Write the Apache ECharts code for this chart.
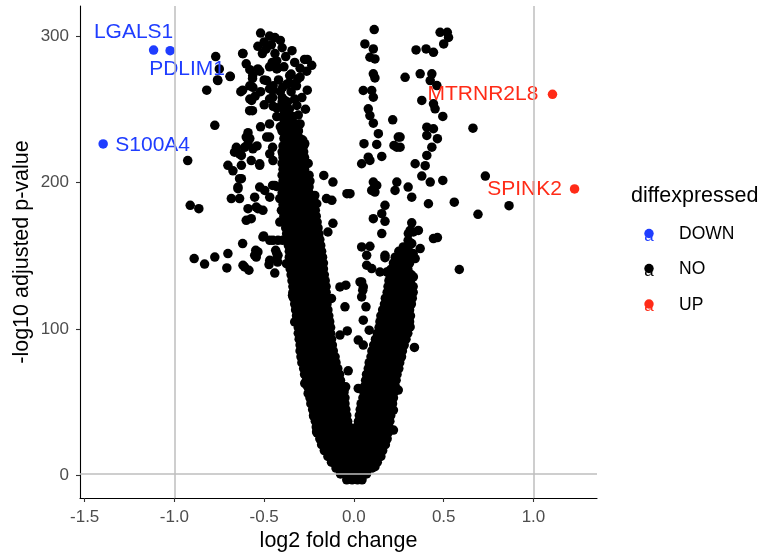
<!DOCTYPE html>
<html>
<head>
<meta charset="utf-8">
<script src="https://cdn.jsdelivr.net/npm/echarts@6/dist/echarts.min.js"></script>
<style>
html,body{margin:0;padding:0;background:#fff;}
#chart{width:766px;height:554px;}
</style>
</head>
<body>
<div id="chart"></div>
<script>
// ---------------- data ----------------
// dense V of non-significant genes: rows of [ -log10 padj, [log2FC values...] ]
const noBandRows = [
[-3,[-0.04,-0.01,0.02,0.045]],
[1,[-0.075,-0.045,-0.015,0.015,0.045,0.07]],
[5,[-0.10,-0.07,-0.04,-0.01,0.02,0.05,0.08,0.10]],
[9,[-0.125,-0.095,-0.065,-0.035,-0.005,0.025,0.055,0.085,0.115,0.13]],
[13,[-0.145,-0.115,-0.085,-0.055,-0.025,0.005,0.035,0.065,0.095,0.125,0.15]],
[17,[-0.165,-0.135,-0.105,-0.075,-0.045,-0.015,0.015,0.045,0.075,0.105,0.135,0.16]],
[21,[-0.18,-0.15,-0.12,-0.09,-0.06,-0.03,0.0,0.03,0.06,0.09,0.12,0.15,0.175]],
[25,[-0.19,-0.16,-0.13,-0.10,-0.07,-0.04,-0.01,0.02,0.05,0.08,0.11,0.14,0.17,0.185]],
[29,[-0.205,-0.175,-0.145,-0.115,-0.085,-0.055,-0.025,0.005,0.035,0.065,0.095,0.125,0.155,0.19]],
[33,[-0.21,-0.18,-0.15,-0.12,-0.09,-0.06,-0.025,0.015,0.045,0.075,0.105,0.135,0.165,0.195]],
[37,[-0.215,-0.185,-0.155,-0.125,-0.095,-0.065,-0.035,0.025,0.055,0.085,0.115,0.145,0.175,0.20]],
[41,[-0.225,-0.195,-0.165,-0.135,-0.105,-0.075,-0.04,0.03,0.06,0.09,0.12,0.15,0.18,0.205]],
[45,[-0.23,-0.20,-0.17,-0.14,-0.11,-0.075,-0.045,0.035,0.065,0.095,0.125,0.155,0.185,0.21]],
[49,[-0.24,-0.21,-0.18,-0.15,-0.12,-0.085,-0.05,0.04,0.07,0.10,0.13,0.16,0.19,0.215]],
[53,[-0.245,-0.215,-0.185,-0.155,-0.125,-0.09,-0.05,0.05,0.08,0.11,0.14,0.17,0.20,0.22]],
[57,[-0.25,-0.22,-0.19,-0.16,-0.13,-0.095,-0.055,0.055,0.085,0.115,0.145,0.175,0.205,0.225]],
[61,[-0.26,-0.23,-0.20,-0.17,-0.14,-0.105,-0.065,0.06,0.09,0.12,0.15,0.18,0.21,0.23]],
[65,[-0.265,-0.235,-0.205,-0.175,-0.145,-0.11,-0.075,0.065,0.095,0.125,0.155,0.185,0.215,0.235]],
[69,[-0.275,-0.245,-0.215,-0.185,-0.155,-0.12,-0.08,0.07,0.10,0.13,0.16,0.19,0.22,0.24]],
[73,[-0.28,-0.25,-0.22,-0.19,-0.16,-0.125,-0.09,0.08,0.11,0.14,0.17,0.20,0.23,0.25]],
[77,[-0.29,-0.26,-0.23,-0.20,-0.17,-0.135,-0.10,0.085,0.115,0.145,0.175,0.205,0.235,0.255]],
[81,[-0.295,-0.265,-0.235,-0.205,-0.175,-0.14,-0.105,0.095,0.125,0.155,0.185,0.215,0.245,0.265]],
[85,[-0.30,-0.27,-0.24,-0.21,-0.18,-0.145,-0.115,0.10,0.13,0.16,0.19,0.22,0.25,0.27]],
[89,[-0.30,-0.27,-0.24,-0.21,-0.18,-0.15,-0.12,0.11,0.14,0.17,0.20,0.23,0.26,0.28]],
[93,[-0.305,-0.275,-0.245,-0.215,-0.185,-0.155,-0.125,0.12,0.15,0.18,0.21,0.24,0.27,0.29]],
[97,[-0.31,-0.28,-0.25,-0.22,-0.19,-0.16,-0.13,0.13,0.16,0.19,0.22,0.25,0.28,0.30]],
[101,[-0.31,-0.28,-0.25,-0.22,-0.19,-0.16,-0.13,0.14,0.17,0.20,0.23,0.26,0.29,0.305]],
[105,[-0.315,-0.285,-0.255,-0.225,-0.195,-0.165,-0.135,0.145,0.175,0.205,0.235,0.265,0.295,0.31]],
[109,[-0.32,-0.29,-0.26,-0.23,-0.20,-0.17,-0.14,0.15,0.18,0.21,0.24,0.27,0.30,0.315]],
[113,[-0.325,-0.295,-0.265,-0.235,-0.205,-0.175,-0.145,0.16,0.19,0.22,0.25,0.28,0.31]],
[117,[-0.33,-0.30,-0.27,-0.24,-0.21,-0.18,-0.15,0.17,0.20,0.23,0.26,0.29,0.32]],
[121,[-0.335,-0.305,-0.275,-0.245,-0.215,-0.185,-0.155,0.175,0.205,0.235,0.265,0.295,0.325]],
[125,[-0.34,-0.31,-0.28,-0.25,-0.22,-0.19,-0.155,0.185,0.215,0.245,0.275,0.305,0.33]],
[129,[-0.34,-0.31,-0.28,-0.25,-0.22,-0.19,-0.155,0.19,0.22,0.25,0.28,0.31,0.33]],
[133,[-0.345,-0.315,-0.285,-0.255,-0.225,-0.195,-0.16,0.195,0.225,0.255,0.285,0.315]],
[137,[-0.35,-0.32,-0.29,-0.26,-0.23,-0.20,-0.165,0.20,0.23,0.26,0.29,0.32]],
[141,[-0.355,-0.325,-0.295,-0.265,-0.235,-0.205,-0.17,0.21,0.24,0.27,0.30]],
[145,[-0.355,-0.325,-0.295,-0.265,-0.235,-0.205,-0.17,0.22,0.25,0.28,0.31]],
[149,[-0.36,-0.33,-0.30,-0.27,-0.24,-0.21,-0.175,0.23,0.27,0.30]],
[153,[-0.36,-0.33,-0.30,-0.27,-0.24,-0.21,-0.18,0.25,0.29]],
[157,[-0.365,-0.335,-0.305,-0.275,-0.245,-0.215,-0.185]],
[161,[-0.37,-0.34,-0.31,-0.28,-0.25,-0.22,-0.19]],
[165,[-0.375,-0.345,-0.315,-0.285,-0.255,-0.225,-0.195]],
[169,[-0.38,-0.35,-0.32,-0.29,-0.26,-0.23,-0.20]],
[173,[-0.385,-0.355,-0.325,-0.295,-0.265,-0.235,-0.205]],
[177,[-0.39,-0.36,-0.33,-0.30,-0.27,-0.24,-0.21]],
[181,[-0.39,-0.36,-0.33,-0.30,-0.27,-0.24,-0.215]],
[185,[-0.395,-0.365,-0.335,-0.305,-0.275,-0.245,-0.22]],
[189,[-0.40,-0.37,-0.34,-0.31,-0.28,-0.25,-0.225]],
[193,[-0.40,-0.37,-0.34,-0.31,-0.28,-0.25]],
[197,[-0.40,-0.37,-0.34,-0.31,-0.28,-0.25]],
[201,[-0.395,-0.365,-0.335,-0.305,-0.275,-0.245]],
[205,[-0.40,-0.37,-0.34,-0.31,-0.28,-0.25]],
[209,[-0.395,-0.365,-0.335,-0.305,-0.275]],
[213,[-0.40,-0.37,-0.34,-0.31,-0.28,-0.255]],
[217,[-0.395,-0.365,-0.335,-0.305,-0.275]],
[221,[-0.40,-0.37,-0.34,-0.31,-0.28]],
[225,[-0.395,-0.365,-0.335,-0.305,-0.28]],
[230,[-0.39,-0.36,-0.33,-0.30]],
[235,[-0.40,-0.37,-0.34,-0.31]],
[240,[-0.39,-0.36,-0.33,-0.30]],
[245,[-0.40,-0.37,-0.34]],
[250,[-0.39,-0.36]],
[255,[-0.40,-0.37]]
];

// scattered non-significant genes: [log2FC, -log10 padj]
const noScatter = [
[-0.52,302],[-0.47,300],[-0.44,299],[-0.41,297],[-0.535,293],[-0.49,291],[-0.62,288],[-0.51,288],[-0.345,290],[-0.44,288],
[-0.77,286],[-0.43,283],[-0.275,284],[-0.26,284],[-0.235,280],[-0.6,281],[-0.455,282],[-0.58,277],[-0.535,277.5],[-0.47,279],
[-0.43,277.5],[-0.75,277.5],[-0.525,276],[-0.425,278],[-0.263,276],[-0.69,272.5],[-0.564,273],[-0.35,274],[-0.358,273],[-0.30,272],
[-0.313,270.7],[-0.565,271],[-0.50,270],[-0.486,269.6],[-0.76,270],[-0.58,266],[-0.563,265],[-0.375,267],[-0.33,267],[-0.32,266],
[-0.397,265],[-0.82,263],[-0.63,262],[-0.62,263],[-0.47,264],[-0.453,263],[-0.41,262],[-0.26,263],[-0.58,257],[-0.57,256],
[-0.47,257],[-0.453,258],[-0.385,256],[-0.33,257],[-0.318,252.6],[-0.565,249],[-0.581,249],[-0.43,251],[-0.385,249],[-0.43,245],
[-0.358,245.7],[-0.375,242],[-0.775,239],[-0.41,238],[-0.36,237],[-0.31,235.5],[-0.59,234],[-0.6,231],[-0.58,230],[-0.47,231],
[-0.486,231],[-0.385,231],[-0.285,229],[-0.285,227.5],[-0.655,224],[-0.609,224],[-0.54,225],[-0.453,224],[-0.618,288],[-0.689,272.3],
[-0.758,269.6],[-0.637,219.6],[-0.274,226.5],
[-0.50,296],[-0.46,294],[-0.40,292],[-0.38,286],[-0.33,282],[-0.30,278],[-0.39,279],[-0.36,268],[-0.42,270],[-0.45,266],
[-0.52,262],[-0.55,259],[-0.50,253],[-0.45,252],[-0.40,258],[-0.35,262],[-0.29,258],[-0.27,250],[-0.31,246],[-0.39,243],
[-0.47,240],[-0.52,238],[-0.33,240],
[-0.665,220.7],[-0.627,218.5],[-0.59,226.5],[-0.563,223],[-0.469,219.6],[-0.397,219.6],[-0.926,215],[-0.451,215],[-0.572,215],[-0.702,211.7],
[-0.627,211.7],[-0.525,211.7],[-0.674,208],[-0.285,212.8],[-0.274,212.8],[-0.525,212.8],[-0.168,204.8],[-0.637,202.6],[-0.627,202.6],[-0.117,200.3],
[-0.646,196.9],[-0.646,195.8],[-0.525,196.9],[-0.453,198],[-0.441,198],[-0.432,197.3],[-0.497,194.6],[-0.039,192.4],[-0.553,190],[-0.469,190],
[-0.374,193.5],[-0.302,190],[-0.218,191.2],[-0.235,189],[-0.153,189],[-0.413,189],[-0.683,189],[-0.637,189],[-0.207,185.5],[-0.123,187.8],
[-0.912,184.4],[-0.864,182.1],[-0.59,182.1],[-0.544,183.2],[-0.535,182.1],[-0.507,181],[-0.236,182.1],[-0.404,181],[-0.6,174.2],[-0.572,175.3],
[-0.413,173],[-0.117,172.1],[-0.145,166.2],[-0.503,163.5],[-0.507,162.8],[-0.451,160.5],[-0.423,160.5],[-0.397,160.5],[-0.469,160.5],[-0.246,160.5],
[-0.62,158.3],[-0.436,153.7],[-0.547,153.7],[-0.535,152.6],[-0.423,150.3],[-0.553,150.3],[-0.43,151.7],[-0.702,151.5],[-0.775,149.1],[-0.544,149.1],
[-0.43,148.1],[-0.89,148.1],[-0.469,146.9],[-0.425,145.7],[-0.832,144.3],[-0.473,144],[-0.376,144.6],[-0.618,143.5],[-0.609,142.3],[-0.708,141.7],
[-0.585,140.1],[-0.441,138.2],
[0.113,304.4],[0.061,294.6],[0.108,291.2],[0.089,285.5],[0.117,284.4],[0.108,274.2],[0.117,271.4],[0.052,262.8],[0.099,262.8],[0.108,258.2],
[0.08,250.3],[0.089,245.7],[0.108,240.5],[0.216,242.8],[0.136,233.3],[0.056,226.5],[0.127,226],[0.223,225.3],[0.247,231],[0.239,224.1],
[0.155,217.8],[0.08,217.3],[0.089,215.1],[0.043,212.8],[0.341,212.8],[0.108,200.3],[0.127,198],[0.099,194.6],[0.117,193.5],[0.239,200.3],
[0.229,194.6],[0.302,196.9],[0.322,190],[0.415,185.5],[0.173,184.4],[0.155,178.7],[0.108,175.3],[0.173,173.5],[0.322,172.5],[0.331,166.2],
[0.359,167.3],[0.313,167.3],[0.155,165.1],[0.302,160.5],[0.275,156],[0.369,154.9],[0.443,161.7],[0.465,162.4],[0.043,156],[0.089,156.4],
[0.071,150.3],[0.173,150.3],[0.173,148.7],[0.33,151.5],[0.322,158.3],[0.275,149.1],[0.341,148.1],[0.071,143.5],[0.099,141.2],[0.145,138.9],
[0.183,138.9],[0.266,142.3],[0.303,138.9],[0.331,135.5],[0.275,135.5],[0.587,140.6],[0.034,132.1],[0.052,128.7],[0.22,131],[0.285,128.7],
[-0.078,128.7],[-0.045,129.9],[0.043,132.1],[0.049,126.4],[0.043,121.9],[-0.125,120.8],[-0.05,115.1],[0.067,115.1],[0.052,106],[0.085,99.2],
[-0.037,98.7],[0.024,92.4],[0.052,89],[-0.078,95.8],[0.337,87.4],[-0.032,71.4],[0.024,59.4],[-0.046,60.5],[0.22,31],[0.117,6],
[-0.342,123],[-0.33,104.8],[-0.274,62.8],[-0.255,56],[-0.223,40.1],[-0.208,29.9],[0.247,58.3],[0.22,44.6],[0.313,101.4],[0.285,121.9],
[0.201,140.1],[0.257,146.9],[-0.339,121.9],[-0.32,117.4],
[0.48,302.5],[0.52,302.5],[0.527,299],[0.50,294.6],[0.346,290.5],[0.402,291.2],[0.443,288.9],[0.285,271.8],[0.369,274.2],[0.434,274.2],
[0.425,269.6],[0.462,266.2],[0.378,256],[0.443,253.7],[0.452,250.3],[0.495,245.1],[0.406,237.8],[0.443,236.7],[0.663,237.1],[0.406,232.1],
[0.465,229.9],[0.257,231],[0.257,224.1],[0.434,224.1],[0.406,218.5],[0.397,211.5],[0.732,204.4],[0.378,204.4],[0.425,200.3],[0.495,201.4],
[0.559,186.6],[0.691,178.3],[0.864,184.2],[0.303,165.1],[0.303,156],[-0.022,192.4]
];

// significant genes
const downGenes = ['LGALS1', 'PDLIM1', 'S100A4'];
const downLog2FC = [-1.116, -1.024, -1.397];
const downPadj = [290.4, 290.0, 226.3];
const upGenes = ['MTRNR2L8', 'SPINK2'];
const upLog2FC = [1.106, 1.229];
const upPadj = [260.2, 195.6];

const xTickValues = [-1.5, -1.0, -0.5, 0.0, 0.5, 1.0];
const yTickValues = [0, 100, 200, 300];
const foldChangeCutoffs = [-1, 1];
const padjCutoff = 1.3;
const legendTitle = 'diffexpressed';
const legendLabels = ['DOWN', 'NO', 'UP'];

// ---------------- build chart ----------------
const FONT = '"Liberation Sans", Arial, Helvetica, sans-serif';
const COLORS = { DOWN: '#1f3dff', NO: '#000000', UP: '#ff2b17' };

const noData = [];
noBandRows.forEach(r => r[1].forEach(x => noData.push([x, r[0]])));
noScatter.forEach(p => noData.push(p));

// label placement (pixels, relative to the point) as the repelled labels sit
const labelOffsets = {
  LGALS1: [-20, -17.5],
  PDLIM1: [17, 19],
  S100A4: [49.5, 1],
  MTRNR2L8: [-69.5, 0],
  SPINK2: [-50, 0.5]
};

function sigData(names, xs, ys) {
  return names.map((n, i) => ({ name: n, value: [xs[i], ys[i]] }));
}
function sigSeries(name, names, xs, ys) {
  const color = COLORS[name];
  return {
    name: name, type: 'scatter', data: sigData(names, xs, ys),
    symbol: 'circle', symbolSize: 9.5, itemStyle: { color: color, opacity: 1 }, silent: true, z: 3,
    label: {
      show: true, position: 'inside', formatter: '{b}',
      color: color, fontSize: 21, fontFamily: FONT, align: 'center', verticalAlign: 'middle',
      opacity: 1, textBorderWidth: 0, textBorderColor: 'transparent', textShadowBlur: 0
    },
    labelLayout: function (params) {
      const off = labelOffsets[names[params.dataIndex]] || [0, 0];
      return { dx: off[0], dy: off[1], hideOverlap: false, moveOverlap: false };
    }
  };
}

const chart = echarts.init(document.getElementById('chart'), null, { renderer: 'canvas' });

const legendGraphics = [];
legendGraphics.push({
  type: 'text', left: 631, top: 185,
  style: { text: legendTitle, font: '21.5px ' + FONT, fill: '#000' }
});
const legendYs = [234.5, 269.5, 305];
legendLabels.forEach((lab, i) => {
  const cy = legendYs[i];
  legendGraphics.push({
    type: 'text', x: 649, y: cy + 1.5,
    style: { text: 'a', font: '17px ' + FONT, fill: COLORS[lab], align: 'center', verticalAlign: 'middle' }
  });
  legendGraphics.push({
    type: 'circle', shape: { cx: 649, cy: cy - 1, r: 4.7 },
    style: { fill: COLORS[lab] }
  });
  legendGraphics.push({
    type: 'text', x: 679, y: cy,
    style: { text: lab, font: '17.5px ' + FONT, fill: '#000', verticalAlign: 'middle' }
  });
});

const axisCommon = {
  type: 'value',
  nameLocation: 'middle',
  nameMoveOverlap: false,
  nameTextStyle: { fontSize: 21.5, color: '#000', fontFamily: FONT },
  axisLine: { show: true, onZero: false, lineStyle: { color: '#000', width: 1.1 } },
  axisTick: { show: true, inside: false, length: 4, lineStyle: { color: '#333', width: 1.1 } },
  splitLine: { show: false },
  minorTick: { show: false }
};

chart.setOption({
  animation: false,
  backgroundColor: '#fff',
  textStyle: { fontFamily: FONT },
  grid: { left: 80, right: 169, top: 6, bottom: 56, containLabel: false, outerBoundsMode: 'none' },
  xAxis: Object.assign({}, axisCommon, {
    min: -1.526, max: 1.354,
    name: 'log2 fold change', nameGap: 32,
    axisTick: Object.assign({}, axisCommon.axisTick, { customValues: xTickValues }),
    axisLabel: { customValues: xTickValues, formatter: v => v.toFixed(1), color: '#4d4d4d', fontSize: 17, margin: 11, fontFamily: FONT }
  }),
  yAxis: Object.assign({}, axisCommon, {
    min: -15.4, max: 320.5,
    name: '-log10 adjusted p-value', nameGap: 47, nameRotate: 90,
    axisTick: Object.assign({}, axisCommon.axisTick, { customValues: yTickValues }),
    axisLabel: { customValues: yTickValues, color: '#4d4d4d', fontSize: 17, margin: 11, fontFamily: FONT }
  }),
  graphic: legendGraphics,
  series: [
    {
      name: 'NO', type: 'scatter', data: noData, symbol: 'circle', symbolSize: 9.5,
      itemStyle: { color: COLORS.NO, opacity: 1 }, silent: true, z: 2
    },
    sigSeries('DOWN', downGenes, downLog2FC, downPadj),
    sigSeries('UP', upGenes, upLog2FC, upPadj),
    {
      name: 'cutoffs', type: 'scatter', data: [], silent: true, z: 10,
      markLine: {
        silent: true, symbol: 'none', animation: false,
        label: { show: false },
        lineStyle: { color: '#bebebe', width: 1.5, type: 'solid' },
        emphasis: { disabled: true },
        data: foldChangeCutoffs.map(v => ({ xAxis: v })).concat([{ yAxis: padjCutoff }])
      }
    }
  ]
});
</script>
</body>
</html>
